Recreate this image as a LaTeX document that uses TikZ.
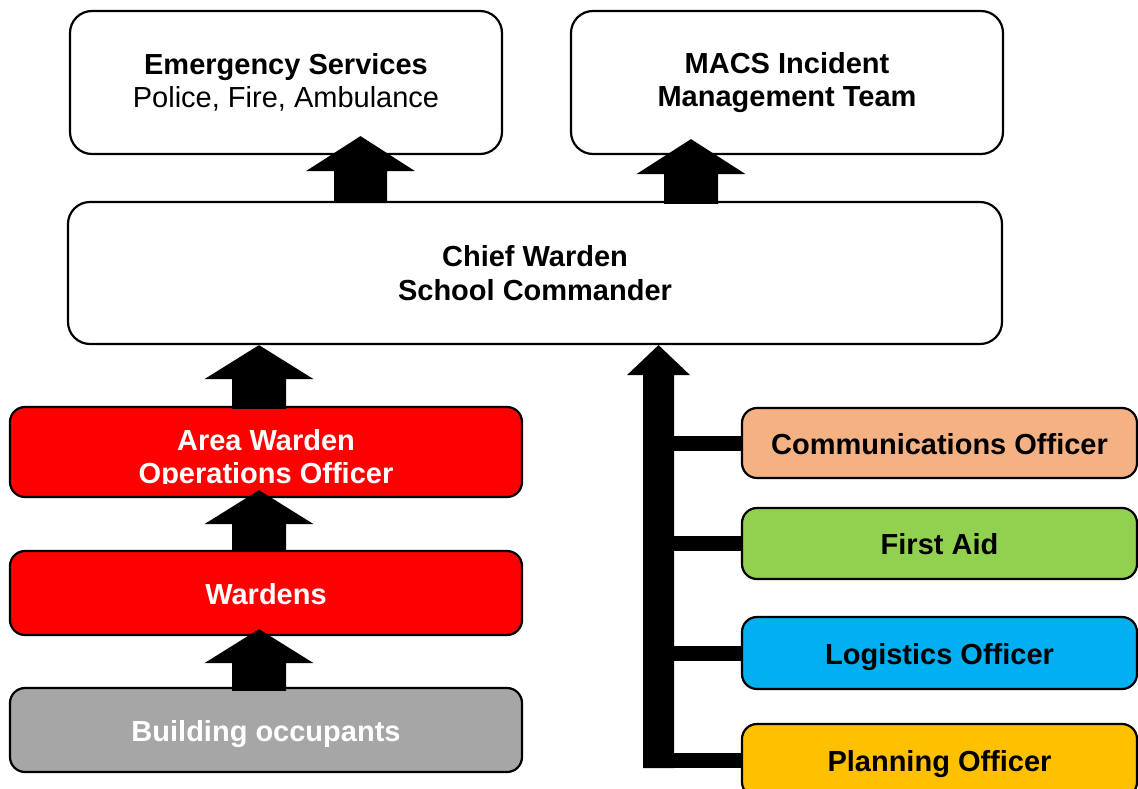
\documentclass[tikz,border=0pt]{standalone}
\usepackage{fontspec}
\setmainfont{Liberation Sans}
\usetikzlibrary{calc}
\definecolor{boxred}{HTML}{FF0000}
\definecolor{boxgray}{HTML}{A6A6A6}
\definecolor{boxorange}{HTML}{F4B183}
\definecolor{boxgreen}{HTML}{92D050}
\definecolor{boxblue}{HTML}{00B0F0}
\definecolor{boxyellow}{HTML}{FFC000}
% block arrow pointing up: #1 bottom point, #2 tip, #3 shaft half width, #4 head half width, #5 head length
\newcommand{\blockup}[5]{%
  \fill[black] let \p1=#1, \p2=#2 in
    (\x2-#3pt,\y1) -- (\x2-#3pt,\y2-#5pt) -- (\x2-#4pt,\y2-#5pt) -- (\x2,\y2)
    -- (\x2+#4pt,\y2-#5pt) -- (\x2+#3pt,\y2-#5pt) -- (\x2+#3pt,\y1) -- cycle;}
\begin{document}
\begin{tikzpicture}[x=1pt,y=-1pt,
  box/.style={draw=black, line width=2.2pt, rounded corners=15pt, inner sep=0pt,
    align=center, font=\fontsize{29}{33.5}\selectfont\bfseries},
  bigbox/.style={box, rounded corners=22pt},
  oneline/.style={text height=22pt, text depth=0pt},
  lefttier/.style={box, oneline, minimum width=512pt, text=white},
  righttier/.style={box, oneline, minimum width=395pt, text=black},
  link/.style={draw=black, line width=15pt}]
\useasboundingbox (0,0) rectangle (1138,789);

% top boxes
\node[bigbox, minimum width=432pt, minimum height=143pt] (es) at (286,82.5)
  {Emergency Services\\\mdseries Police, Fire, Ambulance};
\node[bigbox, minimum width=432pt, minimum height=143pt] (macs) at (787,82.5)
  {MACS Incident\\Management Team};
\node[bigbox, minimum width=934pt, minimum height=142pt] (chief) at (535,273)
  {Chief Warden\\School Commander};

% left column
\node[lefttier, fill=boxred, minimum height=90pt] (area) at (266,452) {};
\begin{scope}
  \clip (10,407) rectangle (522,483.5);
  \node[font=\fontsize{29}{33.5}\selectfont\bfseries, text=white, align=center, inner sep=0pt]
    (areatext) at (266,459.5) {Area Warden\\Operations Officer};
\end{scope}
\node[lefttier, fill=boxred, minimum height=84pt] (wardens) at (266,593) {Wardens};
\node[lefttier, fill=boxgray, minimum height=84pt] (occ) at (266,730) {Building occupants};

% right column
\node[righttier, fill=boxorange, minimum height=70pt] (comm) at (939.5,443) {Communications Officer};
\node[righttier, fill=boxgreen, minimum height=71pt] (aid) at (939.5,543.5) {First Aid};
\node[righttier, fill=boxblue, minimum height=72pt] (log) at (939.5,653) {Logistics Officer};
\node[righttier, fill=boxyellow, minimum height=73pt] (plan) at (939.5,760.5) {Planning Officer};

% block arrows
\blockup{(360.5,0 |- chief.north)}{($(360.5,0 |- es.south)+(0,-19)$)}{26.5}{54.5}{35}
\blockup{($(691,0 |- chief.north)+(0,3)$)}{($(691,0 |- macs.south)+(0,-16)$)}{27}{54.5}{35}
\blockup{($(259,0 |- area.north)+(0,3)$)}{(259,0 |- chief.south)}{27}{54.5}{34}
\blockup{($(259,0 |- wardens.north)+(0,2)$)}{($(259,0 |- area.south)+(0,-8)$)}{27}{54.5}{34}
\blockup{($(259,0 |- occ.north)+(0,4)$)}{($(259,0 |- wardens.south)+(0,-7)$)}{27}{54.5}{34}

% spine with branches
\coordinate (spinebot) at ($(658.5,0 |- plan.west)+(0,7.5)$);
\blockup{(spinebot)}{(658.5,0 |- chief.south)}{15.5}{31.5}{30}
\draw[link] (658.5,0 |- comm.west) -- (comm.west);
\draw[link] (658.5,0 |- aid.west) -- (aid.west);
\draw[link] (658.5,0 |- log.west) -- (log.west);
\draw[link] (643,0 |- plan.west) -- (plan.west);
\end{tikzpicture}
\end{document}
